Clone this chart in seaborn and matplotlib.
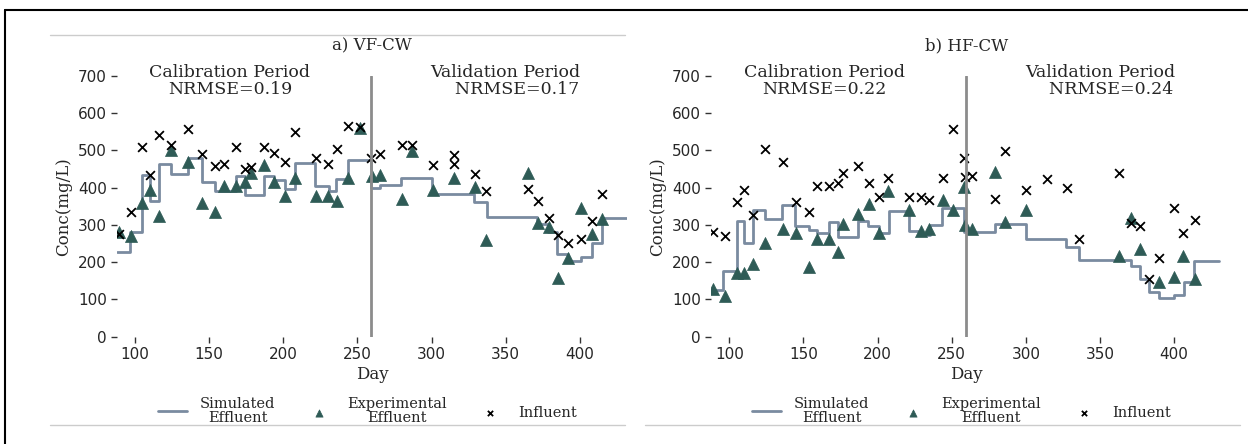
import seaborn as sns
import matplotlib.pyplot as plt
from matplotlib.lines import Line2D
import pandas as pd

# VF-CW (panel a)
vf_sim_days = [88, 96.6, 104.7, 110, 116, 124, 136, 145.5, 154, 168, 174, 187, 194, 201, 208, 221.6,
               230.6, 235.6, 243.7, 259.5, 265.5, 279.7, 300.5, 328.6, 337.2, 371.4, 378.6, 384.9,
               392, 400.7, 408, 415.3, 432]
vf_sim = [227, 281, 435, 365, 462, 437, 480, 415, 391, 432, 381, 432, 419, 397, 466, 404,
          392, 424, 475, 399, 406, 426, 383, 361, 321, 303, 282, 222,
          202, 214, 252, 319, 319]
vf_exp_days = [89, 97, 105, 110, 116, 124, 136, 145, 154, 160, 168, 174, 178, 187, 194, 201, 208,
               222, 230, 236, 244, 252, 260, 265, 280, 287, 301, 315, 329, 337, 365, 372, 379,
               385, 392, 401, 408, 415]
vf_exp = [280, 269, 358, 394, 325, 502, 468, 359, 334, 404, 404, 415, 439, 461, 415, 376, 425,
          376, 376, 363, 425, 560, 431, 435, 370, 497, 394, 425, 401, 260, 439, 306, 294,
          157, 211, 345, 276, 316]
vf_inf_days = [89, 97, 105, 110, 116, 124, 136, 145, 154, 160, 168, 174, 178, 187, 194, 201, 208,
               222, 230, 236, 244, 252, 259, 265, 280, 287, 301, 315, 315, 329, 337, 365, 372,
               379, 385, 392, 401, 408, 415]
vf_inf = [276, 334, 508, 434, 540, 515, 558, 489, 459, 464, 508, 450, 455, 508, 492, 468, 549,
          479, 464, 504, 564, 562, 479, 489, 513, 513, 461, 488, 464, 437, 390, 397, 364,
          319, 274, 251, 263, 309, 382]

# HF-CW (panel b)
hf_sim_days = [88, 96, 105, 110, 115.7, 124, 135.6, 144.6, 153.6, 159.4, 167, 173.3, 186.8, 193.5,
               200.7, 207.4, 221, 228.8, 235.4, 243.5, 258, 279, 300, 327.3, 335.9, 370.6, 377.3,
               383.4, 390.1, 399.7, 406.4, 413.6, 430]
hf_sim = [125, 177, 311, 252, 341, 315, 352, 298, 285, 277, 308, 268, 310, 298,
          279, 338, 284, 274, 300, 344, 280, 301, 263, 241, 205, 189, 156,
          120, 103, 112, 147, 203, 203]
hf_exp_days = [89, 97, 105, 110, 116, 124, 136, 145, 154, 159, 167, 173, 177, 187, 194, 201, 207,
               221, 229, 235, 244, 251, 258, 259, 264, 279, 286, 300, 363, 371, 377, 390, 400,
               406, 414]
hf_exp = [127, 110, 171, 171, 196, 251, 288, 277, 186, 261, 261, 226, 301, 330, 355, 277, 390,
          339, 284, 290, 366, 341, 401, 299, 290, 443, 308, 339, 216, 317, 235, 147, 161,
          216, 156]
hf_inf_days = [89, 97, 105, 110, 116, 124, 136, 145, 154, 159, 167, 173, 177, 187, 194, 201, 207,
               221, 229, 235, 244, 251, 258, 259, 264, 279, 286, 300, 314, 328, 336, 363, 371,
               377, 383, 390, 400, 406, 414]
hf_inf = [281, 270, 360, 394, 326, 504, 468, 360, 335, 404, 404, 413, 439, 459, 413, 375, 425,
          375, 375, 366, 425, 557, 479, 428, 432, 370, 499, 394, 424, 400, 261, 439, 305,
          296, 156, 210, 345, 277, 314]

titles = ["a) VF-CW", "b) HF-CW"]
nrmse_cal = ["0.19", "0.22"]
nrmse_val = ["0.17", "0.24"]

SIM_COLOR = "#7a8ba0"
EXP_COLOR = "#2e5b56"

sns.set_style("white")
plt.rcParams['font.family'] = ['DejaVu Serif']

fig = plt.figure(figsize=(12.48, 4.44), dpi=100)
ax1 = fig.add_axes([0.0939, 0.2417, 0.4087, 0.5878])
ax2 = fig.add_axes([0.5701, 0.2417, 0.4087, 0.5878])

panels = [
    (ax1, vf_sim_days, vf_sim, vf_exp_days, vf_exp, vf_inf_days, vf_inf),
    (ax2, hf_sim_days, hf_sim, hf_exp_days, hf_exp, hf_inf_days, hf_inf),
]

for i, (ax, sd, sv, ed, ev, idays, iv) in enumerate(panels):
    sim = pd.DataFrame({'day': sd, 'conc': sv})
    sns.lineplot(data=sim, x='day', y='conc', ax=ax, color=SIM_COLOR, lw=2,
                 drawstyle='steps-post', label='Simulated\nEffluent')
    sns.scatterplot(x=ed, y=ev, ax=ax, marker='^', color=EXP_COLOR, s=75,
                    edgecolor=EXP_COLOR, linewidth=0.5, label='Experimental\nEffluent', zorder=3)
    sns.scatterplot(x=idays, y=iv, ax=ax, marker='x', color='black', s=40,
                    linewidth=1.3, label='Influent', zorder=4)
    ax.axvline(259.5, color='#8c8c8c', lw=2, zorder=5)

    ax.set_xlim(88, 432)
    ax.set_ylim(0, 700)
    ax.set_xticks([100, 150, 200, 250, 300, 350, 400])
    ax.set_yticks(range(0, 701, 100))
    sns.despine(ax=ax, left=True, bottom=True)
    ax.tick_params(axis='both', direction='out', length=4, width=1, color='#333333',
                   left=True, bottom=True, labelsize=11)
    for lab in ax.get_xticklabels() + ax.get_yticklabels():
        lab.set_fontfamily('DejaVu Sans')

    ax.set_title(titles[i], fontsize=12, pad=18)
    ax.set_xlabel('Day', fontsize=12, labelpad=3)
    ax.set_ylabel('Conc(mg/L)', fontsize=12, labelpad=4)

    ax.text(164, 686, "Calibration Period\nNRMSE=" + nrmse_cal[i], ha='center', va='center',
            fontsize=12.5, linespacing=1.0)
    ax.text(350, 686, "Validation Period\n    NRMSE=" + nrmse_val[i], ha='center', va='center',
            fontsize=12.5, linespacing=1.0)

    leg = ax.legend(loc='center', bbox_to_anchor=(0.49, -0.285), ncol=3, frameon=False,
                    fontsize=10.5, handlelength=2, handletextpad=0.9, columnspacing=2.0,
                    markerscale=0.6)
    for t in leg.get_texts():
        t.set_multialignment('center')
        t.set_linespacing(1.0)

# frame and separator lines around the panels
fig.add_artist(Line2D([5 / 1248, 5 / 1248], [0, 1 - 10 / 444], transform=fig.transFigure,
                      color='black', lw=1.5))
fig.add_artist(Line2D([5 / 1248, 1], [1 - 10 / 444, 1 - 10 / 444], transform=fig.transFigure,
                      color='black', lw=1.5))
fig.add_artist(Line2D([50 / 1248, 625 / 1248], [1 - 35 / 444, 1 - 35 / 444],
                      transform=fig.transFigure, color='#cccccc', lw=1))
fig.add_artist(Line2D([50 / 1248, 625 / 1248], [1 - 425 / 444, 1 - 425 / 444],
                      transform=fig.transFigure, color='#cccccc', lw=1))
fig.add_artist(Line2D([645 / 1248, 1240 / 1248], [1 - 425 / 444, 1 - 425 / 444],
                      transform=fig.transFigure, color='#cccccc', lw=1))

fig.savefig('out.png', dpi=100)
